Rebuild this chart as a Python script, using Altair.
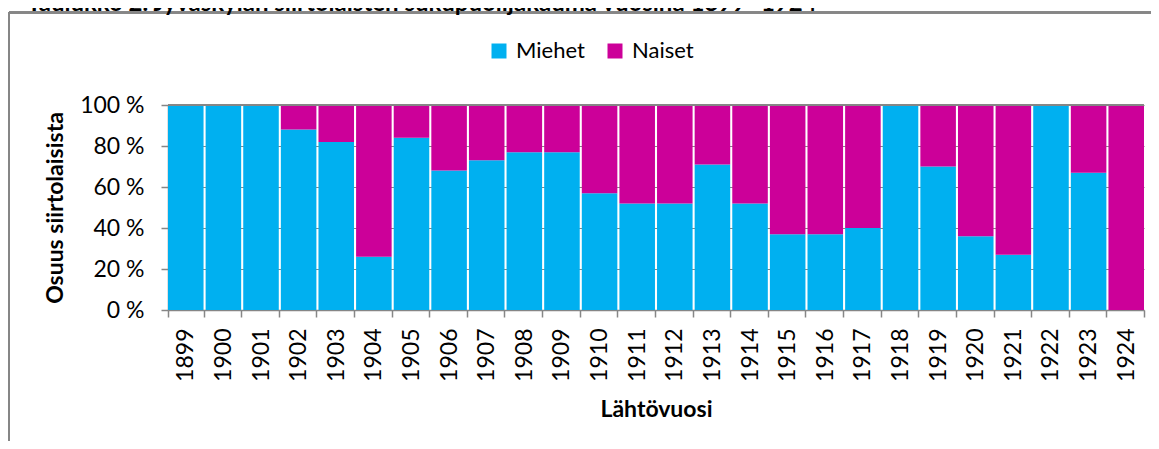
import altair as alt
import pandas as pd

years = [str(y) for y in range(1899, 1925)]
miehet = [100, 100, 100, 88, 82, 26, 84, 68, 73, 77, 77, 57, 52, 52, 71, 52,
          37, 37, 40, 100, 70, 36, 27, 100, 67, 0]
naiset = [100 - m for m in miehet]
series = ["Miehet", "Naiset"]
colors = ["#00B0F0", "#CC0099"]
title_text = "Taulukko 2. Jyväskylän siirtolaisten sukupuolijakauma vuosina 1899- 1924"

rows = []
for y, m, n in zip(years, miehet, naiset):
    rows.append({"vuosi": y, "sukupuoli": "Miehet", "osuus": m, "jarj": 0})
    rows.append({"vuosi": y, "sukupuoli": "Naiset", "osuus": n, "jarj": 1})
df = pd.DataFrame(rows)

FONT = "Lato"
W, H = 976, 205

bars = alt.Chart(df).mark_bar(stroke=None).encode(
    x=alt.X("vuosi:N", sort=years,
            scale=alt.Scale(paddingInner=0.055, paddingOuter=0.0),
            axis=alt.Axis(title="Lähtövuosi", labelAngle=270, labelFontSize=23,
                          labelFont=FONT, labelColor="#000", labelPadding=11,
                          tickBand="extent", tickSize=7, tickColor="#868686",
                          domainColor="#868686", domainWidth=1.5, tickWidth=1.5,
                          grid=False, titleFont=FONT, titleFontSize=23,
                          titleFontWeight="bold", titleColor="#000", titlePadding=17)),
    y=alt.Y("osuus:Q", stack="zero",
            scale=alt.Scale(domain=[0, 100], nice=False),
            axis=alt.Axis(title="Osuus siirtolaisista", values=[0, 20, 40, 60, 80, 100],
                          labelExpr="datum.value + ' %'", labelFontSize=23,
                          labelFont=FONT, labelColor="#000", labelPadding=17,
                          tickSize=7, tickColor="#868686", domainColor="#868686",
                          domainWidth=1.5, tickWidth=1.5,
                          gridColor="#868686", gridWidth=1.2,
                          titleFont=FONT, titleFontSize=23, titleFontWeight="bold",
                          titleColor="#000", titlePadding=12)),
    color=alt.Color("sukupuoli:N", scale=alt.Scale(domain=series, range=colors),
                    legend=alt.Legend(title=None, orient="none", legendX=320, legendY=-65,
                                      direction="horizontal", symbolType="square",
                                      symbolSize=225, symbolStrokeWidth=0,
                                      labelFont=FONT, labelFontSize=22, labelColor="#000",
                                      labelOffset=6, columnPadding=19, padding=0)),
    order=alt.Order("jarj:Q"),
)

top_rule = alt.Chart(df).mark_rule(color="#868686", strokeWidth=1.5).encode(
    x=alt.value(0), x2=alt.value(W), y=alt.value(0)
)

frame_top = alt.Chart(df).mark_rule(color="#868686", strokeWidth=1.5).encode(
    x=alt.value(-159), x2=alt.value(1100), y=alt.value(-92.5)
)
frame_left = alt.Chart(df).mark_rule(color="#868686", strokeWidth=1.5).encode(
    x=alt.value(-159), y=alt.value(-92.5), y2=alt.value(600)
)

title = alt.Chart(pd.DataFrame({"t": [title_text]})).mark_text(
    align="left", baseline="alphabetic", font=FONT, fontSize=24, fontWeight="bold",
    color="#000"
).encode(text="t:N", x=alt.value(-141), y=alt.value(-94))

chart = alt.layer(frame_top, frame_left, title, bars, top_rule).properties(
    width=W, height=H,
    autosize=alt.AutoSizeParams(type="none"),
    padding={"left": 160, "top": 97, "right": 7, "bottom": 131},
).configure_view(stroke=None)

chart.save("out.html", embed_options={"renderer": "svg", "actions": False})
